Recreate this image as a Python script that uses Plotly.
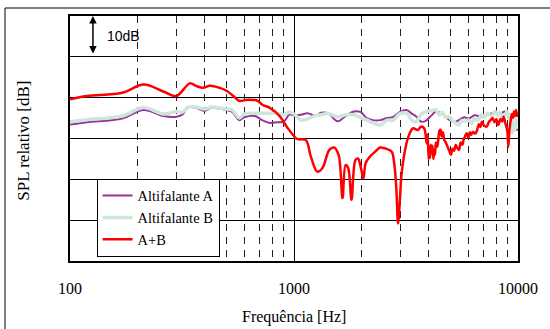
import plotly.graph_objects as go

# ---------------- data ----------------
freq_a = [100, 119, 171, 213, 261, 298, 320, 337, 365, 400, 429, 495, 530, 570, 600, 670, 720, 780, 838, 898,
          955, 1000, 1075, 1150, 1250, 1320, 1420, 1564, 1700, 1850, 1980, 2120, 2250, 2426, 2600, 2774, 2950,
          3177, 3350, 3515, 3700, 3890, 4100, 4300, 4600, 4924, 5200, 5450, 5750, 6030, 6400, 6880, 7300,
          7900, 8300, 8740, 9200, 9670, 10000]
spl_a = [-6.6, -6.0, -5.1, -3.0, -4.5, -4.7, -4.0, -2.3, -2.5, -3.2, -2.5, -3.0, -3.5, -5.5, -4.8, -4.5, -5.5,
         -6.2, -6.0, -5.9, -4.1, -4.3, -4.2, -3.8, -4.5, -3.7, -3.8, -5.8, -4.5, -3.4, -3.5, -5.1, -5.5, -5.5,
         -5.0, -4.7, -3.6, -3.0, -3.9, -4.6, -5.9, -5.6, -4.4, -3.4, -4.0, -5.4, -6.0, -5.5, -4.8, -5.1, -4.3,
         -4.7, -4.1, -3.8, -4.0, -3.4, -4.5, -7.5, -7.9]

freq_b = [100, 119, 171, 213, 261, 298, 320, 337, 365, 400, 429, 495, 530, 570, 600, 670, 720, 780, 838, 898,
          955, 1000, 1075, 1150, 1250, 1320, 1420, 1564, 1700, 1850, 2000, 2120, 2250, 2426, 2600, 2774, 2950,
          3177, 3350, 3515, 3700, 3890, 4100, 4300, 4450, 4600, 4750, 4924, 5050, 5200, 5450, 5600, 5750,
          6030, 6200, 6400, 6600, 6880, 7100, 7300, 7600, 7900, 8100, 8300, 8500, 8740, 8950, 9100, 9250,
          9400, 9550, 9670, 9850, 10000]
spl_b = [-5.9, -5.4, -4.5, -2.4, -4.0, -3.4, -3.5, -2.3, -2.3, -2.8, -2.3, -2.8, -3.0, -5.0, -4.0, -3.8, -3.8,
         -3.8, -3.8, -4.2, -3.6, -4.0, -5.5, -5.2, -4.4, -4.2, -3.9, -4.7, -4.2, -4.2, -5.0, -5.5, -6.2, -6.7,
         -5.5, -5.5, -4.0, -3.8, -5.5, -5.9, -4.0, -3.4, -3.2, -3.0, -4.2, -3.6, -4.8, -4.7, -5.4, -6.0, -6.7,
         -5.6, -5.8, -5.5, -6.3, -5.0, -5.6, -4.2, -4.8, -3.8, -4.5, -3.4, -4.3, -3.6, -4.6, -4.2, -3.4, -5.0,
         -4.2, -8.7, -6.0, -8.0, -5.5, -6.7]

freq_ab = [100, 119, 171, 213, 261, 298, 343, 365, 392, 421, 466, 500, 536, 570, 620, 684, 725, 780, 863, 928,
           1025, 1056, 1130, 1190, 1270, 1340, 1438, 1508, 1581, 1646, 1700, 1747, 1806, 1880, 1930, 1998, 2040,
           2090, 2177, 2305, 2422, 2545, 2726, 2800, 2865, 2915, 2970, 3024, 3180, 3286, 3400, 3570, 3690, 3810,
           3915, 3950, 3990, 4015, 4050, 4080, 4110, 4150, 4190, 4220, 4260, 4300, 4365, 4420, 4470, 4515, 4560,
           4620, 4690, 4760, 4850, 4930, 5020, 5100, 5180, 5270, 5350, 5450, 5550, 5650, 5710, 5800, 5900, 6000,
           6100, 6180, 6300, 6450, 6570, 6700, 6800, 6900, 7050, 7240, 7400, 7550, 7700, 7850, 8000, 8170, 8350,
           8500, 8620, 8800, 8950, 9060, 9150, 9280, 9400, 9500, 9590, 9700, 9800, 9900, 10000]
spl_ab = [-0.4, 0.4, 1.2, 3.2, 1.5, 0.4, 3.5, 2.9, 2.4, 2.9, 2.4, 1.7, 0.4, -0.8, -0.5, -0.7, -1.8, -2.5, -4.5,
          -7.1, -10.0, -10.2, -10.4, -14.5, -18.1, -17.2, -12.8, -12.2, -14.0, -24.6, -16.5, -17.3, -25.0, -15.3,
          -14.9, -17.7, -19.8, -16.0, -14.5, -13.2, -12.2, -12.4, -13.2, -16.0, -22.6, -30.8, -25.0, -18.5, -11.1,
          -8.7, -7.5, -7.9, -7.1, -7.5, -11.2, -9.0, -15.0, -12.0, -14.8, -11.5, -13.5, -11.8, -15.0, -13.0,
          -14.0, -11.0, -12.0, -9.5, -8.0, -7.9, -9.5, -8.5, -10.4, -11.0, -12.0, -13.0, -14.0, -12.5, -13.0,
          -11.6, -12.3, -12.8, -11.0, -11.5, -10.4, -9.5, -8.7, -9.8, -8.5, -9.1, -8.4, -8.8, -7.9, -6.5, -7.2,
          -5.9, -6.8, -7.1, -6.0, -5.5, -5.0, -6.0, -5.3, -6.7, -5.2, -5.8, -4.7, -6.5, -8.0, -12.0, -8.0, -5.5,
          -4.0, -5.0, -3.4, -4.5, -3.0, -4.2, -4.7]

series_names = ["Altifalante A", "Altifalante B", "A+B"]
major_ticks = [100, 1000, 10000]
minor_ticks = [200, 300, 400, 500, 600, 700, 800, 900, 2000, 3000, 4000, 5000, 6000, 7000, 8000, 9000]

SERIF = "Liberation Serif"

fig = go.Figure()
fig.add_trace(go.Scatter(x=freq_a, y=spl_a, mode="lines", name=series_names[0],
                         line=dict(color="#993399", width=2, shape="spline", smoothing=1.0)))
fig.add_trace(go.Scatter(x=freq_b, y=spl_b, mode="lines", name=series_names[1],
                         line=dict(color="#cce6da", width=3.5, shape="spline", smoothing=1.0)))
fig.add_trace(go.Scatter(x=freq_ab, y=spl_ab, mode="lines", name=series_names[2],
                         line=dict(color="#ff0000", width=2.5, shape="spline", smoothing=1.0)))

fig.update_layout(
    width=550, height=329,
    margin=dict(l=70, r=25, t=16, b=68),
    paper_bgcolor="white", plot_bgcolor="white",
    font=dict(family=SERIF, size=16, color="black"),
    showlegend=True,
    legend=dict(x=0.0593, y=0.336, xanchor="left", yanchor="top",
                bgcolor="white", bordercolor="black", borderwidth=1,
                font=dict(family=SERIF, size=14.5, color="black"),
                itemwidth=30, tracegroupgap=0),
)

fig.update_xaxes(
    type="log", range=[2, 4],
    tickvals=major_ticks, ticktext=[str(v) for v in major_ticks],
    ticks="", ticklabelstandoff=12,
    tickfont=dict(family=SERIF, size=16, color="black"),
    showgrid=True, gridcolor="black", gridwidth=1,
    minor=dict(tickvals=minor_ticks, showgrid=True, griddash="7px,6px",
               gridcolor="#222222", gridwidth=1, ticks=""),
    showline=True, linecolor="black", linewidth=2, mirror=True,
    zeroline=False,
)
fig.update_yaxes(
    range=[-40, 20], dtick=10, showticklabels=False, ticks="",
    showgrid=True, gridcolor="black", gridwidth=1,
    showline=True, linecolor="black", linewidth=2, mirror=True,
    zeroline=False,
)

# outer frame (top and left edges only are visible in the reference)
fig.add_shape(type="line", xref="paper", yref="paper",
              x0=(4 - 70) / 455, x1=(560 - 70) / 455,
              y0=(261 - 8) / 245, y1=(261 - 8) / 245,
              line=dict(color="black", width=1), layer="below")
fig.add_shape(type="line", xref="paper", yref="paper",
              x0=(4 - 70) / 455, x1=(4 - 70) / 455,
              y0=(261 - 8) / 245, y1=(261 - 340) / 245,
              line=dict(color="black", width=1), layer="below")

# axis titles
fig.add_annotation(text="Frequência [Hz]", xref="paper", yref="paper",
                   x=(298 - 70) / 455, y=(261 - 317) / 245, xanchor="center", yanchor="middle",
                   showarrow=False, font=dict(family=SERIF, size=16, color="black"))
fig.add_annotation(text="SPL relativo [dB]", xref="paper", yref="paper",
                   x=(22 - 70) / 455, y=(261 - 141) / 245, xanchor="center", yanchor="middle",
                   textangle=-90, showarrow=False, font=dict(family=SERIF, size=17, color="black"))

# 10 dB scale arrow
fig.add_annotation(text="", xref="paper", yref="y", x=(93.3 - 70) / 455, y=20,
                   ax=0, ay=39, axref="pixel", ayref="pixel",
                   showarrow=True, arrowhead=2, arrowside="end+start",
                   arrowsize=1, arrowwidth=1.5, arrowcolor="black")
fig.add_annotation(text="10dB", xref="paper", yref="paper",
                   x=(124 - 70) / 455, y=(261 - 36) / 245, xanchor="center", yanchor="middle",
                   showarrow=False, font=dict(family="Liberation Sans", size=14, color="black"))

fig.write_html("out.html")
